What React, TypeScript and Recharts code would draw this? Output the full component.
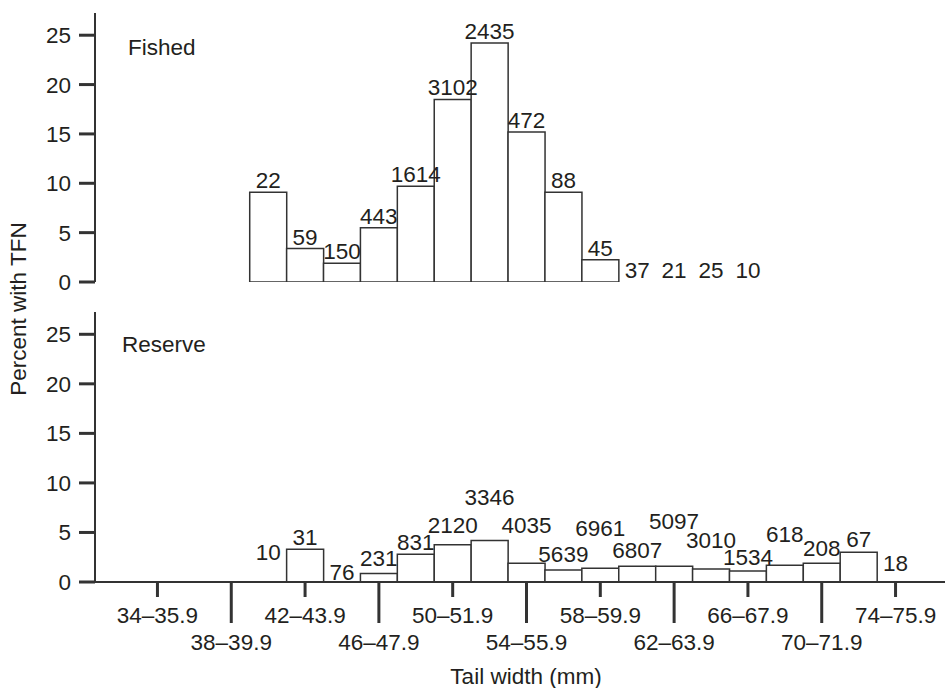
import { ComposedChart, Bar, Line, XAxis, YAxis, LabelList } from 'recharts';

const FONT = "'Liberation Sans', Arial, Helvetica, sans-serif";
const INK = '#231f20';
const LINE = '#333333';
const FS = 22.5;

// 2-mm tail-width bins
const bins = [
  '34–35.9', '36–37.9', '38–39.9', '40–41.9', '42–43.9', '44–45.9', '46–47.9',
  '48–49.9', '50–51.9', '52–53.9', '54–55.9', '56–57.9', '58–59.9', '60–61.9',
  '62–63.9', '64–65.9', '66–67.9', '68–69.9', '70–71.9', '72–73.9', '74–75.9',
];

// percent with TFN, and number of fish per bin
const fishedPercent = [null, null, null, 9.1, 3.4, 1.9, 5.5, 9.7, 18.5, 24.2, 15.2, 9.1, 2.25, 0, 0, 0, 0, null, null, null, null];
const fishedCount = [null, null, null, 22, 59, 150, 443, 1614, 3102, 2435, 472, 88, 45, 37, 21, 25, 10, null, null, null, null];

const reservePercent = [null, null, null, 0, 3.3, 0, 0.85, 2.8, 3.75, 4.2, 1.9, 1.2, 1.4, 1.6, 1.6, 1.3, 1.1, 1.7, 1.9, 3.0, 0];
const reserveCount = [null, null, null, 10, 31, 76, 231, 831, 2120, 3346, 4035, 5639, 6961, 6807, 5097, 3010, 1534, 618, 208, 67, 18];

const yTicks = [0, 5, 10, 15, 20, 25];

// extra lift (px) for staggered count labels, per bin
const fishedLift = [0, 0, 0, 0, 0, 0, 0, 0, 0, 0, 0, 0, 0, 0, 0, 0, 0, 0, 0, 0, 0];
const reserveLift = [0, 0, 0, 18, 0, -2, 4, 0, 8, 31, 26, 4, 28, 4, 33, 17, 2, 19, 3, 1, 7];

const fishedData = bins.map((bin, i) => ({ bin, pct: fishedPercent[i], n: fishedCount[i] }));
const reserveData = bins.map((bin, i) => ({ bin, pct: reservePercent[i], n: reserveCount[i] }));

const W = 960;
const Y_DOMAIN: [number, number] = [0, 27.25];
const X_PAD = { left: 44, right: 46 };

function countLabel(counts: (number | null)[], lift: number[]) {
  return (props: any) => {
    const { x, y, value } = props;
    if (value == null || y == null) return null;
    const i = counts.indexOf(value);
    return (
      <text
        x={Number(x)}
        y={Number(y) - 12 - (lift[i] ?? 0)}
        dy="0.36em"
        textAnchor="middle"
        fill={INK}
        fontSize={FS}
        fontFamily={FONT}
      >
        {value}
      </text>
    );
  };
}

function BinTick(props: any) {
  const { x, y, index, payload } = props;
  if (index % 2 === 1) return null;
  const upper = index % 4 === 0;
  const len = upper ? 15 : 41;
  const ty = upper ? 33 : 60;
  return (
    <g>
      <line x1={x} x2={x} y1={y} y2={y + len} stroke={LINE} strokeWidth={3} />
      <text x={x} y={y + ty} dy="0.36em" textAnchor="middle" fill={INK} fontSize={FS} fontFamily={FONT}>
        {payload.value}
      </text>
    </g>
  );
}

function Panel({ data, counts, lift, height, top, bottom, bottomAxis }: any) {
  return (
    <ComposedChart
      width={W}
      height={height}
      data={data}
      margin={{ top, right: 0, bottom, left: 0 }}
      barCategoryGap={0}
      barGap={0}
    >
      <XAxis
        xAxisId="frame"
        orientation="top"
        dataKey="bin"
        height={0}
        tick={false}
        tickLine={false}
        axisLine={{ stroke: LINE, strokeWidth: 2 }}
        padding={X_PAD}
      />
      {bottomAxis ? (
        <XAxis
          dataKey="bin"
          height={106}
          interval={0}
          padding={X_PAD}
          tickSize={0}
          tickMargin={0}
          tickLine={false}
          axisLine={{ stroke: LINE, strokeWidth: 2 }}
          tick={<BinTick />}
        />
      ) : (
        <XAxis
          dataKey="bin"
          height={0}
          padding={X_PAD}
          tick={false}
          tickLine={false}
          axisLine={{ stroke: LINE, strokeWidth: 2 }}
        />
      )}
      <YAxis
        width={95}
        domain={Y_DOMAIN}
        ticks={yTicks}
        allowDataOverflow
        interval={0}
        tickSize={16}
        tickMargin={8}
        axisLine={{ stroke: LINE, strokeWidth: 2 }}
        tickLine={{ stroke: LINE, strokeWidth: 3 }}
        tick={{ fill: INK, fontSize: FS, fontFamily: FONT }}
      />
      <Bar dataKey="pct" fill="#ffffff" stroke={LINE} strokeWidth={1.5} isAnimationActive={false} />
      <Line
        dataKey="pct"
        stroke="none"
        dot={false}
        activeDot={false}
        connectNulls={false}
        isAnimationActive={false}
      >
        <LabelList dataKey="n" content={countLabel(counts, lift)} />
      </Line>
    </ComposedChart>
  );
}

const textStyle = { fontFamily: FONT, fontSize: FS, color: INK, lineHeight: `${FS}px`, whiteSpace: 'nowrap' as const };

export default function App() {
  return (
    <div style={{ position: 'fixed', left: 0, top: 0, width: 945, height: 688, overflow: 'hidden', background: '#fff' }}>
      <div style={{ position: 'absolute', left: 0, top: 0 }}>
        <Panel data={fishedData} counts={fishedCount} lift={fishedLift} height={302} top={13} bottom={20} bottomAxis={false} />
      </div>
      <div style={{ position: 'absolute', left: 0, top: 292 }}>
        <Panel data={reserveData} counts={reserveCount} lift={reserveLift} height={396} top={20} bottom={0} bottomAxis />
      </div>
      <div style={{ ...textStyle, position: 'absolute', left: 128, top: 37 }}>Fished</div>
      <div style={{ ...textStyle, position: 'absolute', left: 122, top: 334 }}>Reserve</div>
      <div
        style={{
          ...textStyle,
          position: 'absolute',
          left: 19,
          top: 309,
          transform: 'translate(-50%, -50%) rotate(-90deg)',
        }}
      >
        Percent with TFN
      </div>
      <div style={{ ...textStyle, position: 'absolute', left: 526, top: 666, transform: 'translateX(-50%)' }}>
        Tail width (mm)
      </div>
    </div>
  );
}
